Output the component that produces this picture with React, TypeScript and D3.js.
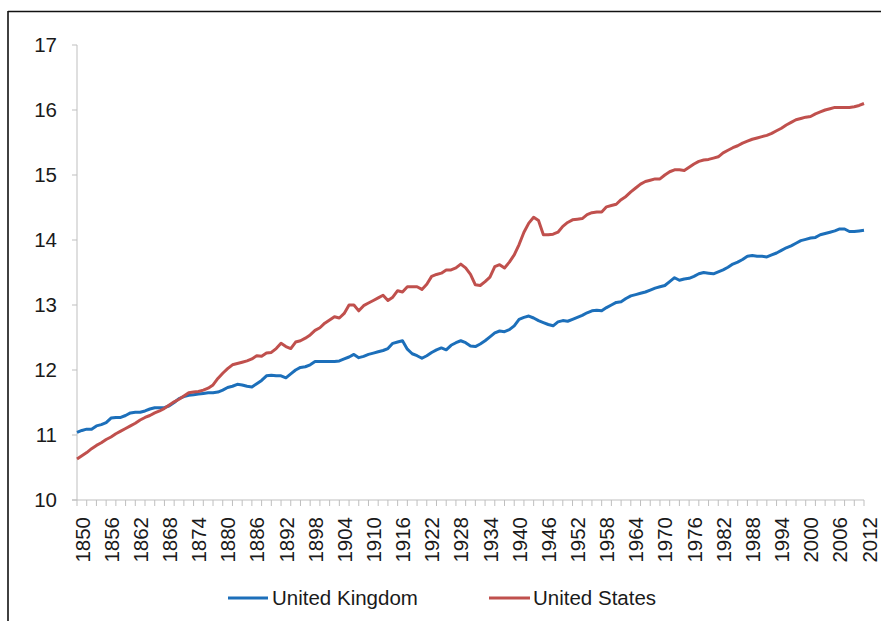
import React from "react";
import * as d3 from "d3";

const startYear = 1850;
const endYear = 2012;

const ukValues: number[] = [
  11.04, 11.07, 11.09, 11.09, 11.14, 11.16, 11.19, 11.26, 11.27, 11.27,
  11.30, 11.34, 11.35, 11.35, 11.37, 11.40, 11.42, 11.42, 11.42, 11.45,
  11.50, 11.56, 11.59, 11.61, 11.62, 11.63, 11.64, 11.65, 11.65, 11.66,
  11.69, 11.73, 11.75, 11.78, 11.77, 11.75, 11.74, 11.79, 11.84, 11.91,
  11.92, 11.91, 11.91, 11.88, 11.94, 12.00, 12.04, 12.05, 12.08, 12.13,
  12.13, 12.13, 12.13, 12.13, 12.14, 12.17, 12.20, 12.24, 12.19, 12.21,
  12.24, 12.26, 12.28, 12.30, 12.33, 12.41, 12.43, 12.45, 12.32, 12.25,
  12.22, 12.18, 12.22, 12.27, 12.31, 12.34, 12.31, 12.38, 12.42, 12.45,
  12.42, 12.37, 12.36, 12.40, 12.45, 12.51, 12.57, 12.60, 12.59, 12.62,
  12.68, 12.78, 12.81, 12.83, 12.80, 12.76, 12.73, 12.70, 12.68, 12.74,
  12.76, 12.75, 12.78, 12.81, 12.84, 12.88, 12.91, 12.92, 12.91, 12.96,
  13.00, 13.04, 13.05, 13.10, 13.14, 13.16, 13.18, 13.20, 13.23, 13.26,
  13.28, 13.30, 13.36, 13.42, 13.38, 13.40, 13.41, 13.44, 13.48, 13.50,
  13.49, 13.48, 13.51, 13.54, 13.58, 13.63, 13.66, 13.70, 13.75, 13.76,
  13.75, 13.75, 13.74, 13.77, 13.80, 13.84, 13.88, 13.91, 13.95, 13.99,
  14.01, 14.03, 14.04, 14.08, 14.10, 14.12, 14.14, 14.17, 14.17, 14.13,
  14.13, 14.14, 14.15,
];

const usValues: number[] = [
  10.63, 10.68, 10.73, 10.79, 10.84, 10.88, 10.93, 10.97, 11.02, 11.06,
  11.10, 11.14, 11.18, 11.23, 11.27, 11.30, 11.34, 11.37, 11.41, 11.46,
  11.51, 11.55, 11.60, 11.65, 11.66, 11.67, 11.69, 11.72, 11.77, 11.87,
  11.95, 12.02, 12.08, 12.10, 12.12, 12.14, 12.17, 12.22, 12.21, 12.26,
  12.27, 12.33, 12.41, 12.36, 12.33, 12.43, 12.45, 12.49, 12.54, 12.61,
  12.65, 12.72, 12.77, 12.82, 12.80, 12.87, 13.00, 13.00, 12.91, 12.99,
  13.03, 13.07, 13.11, 13.15, 13.07, 13.12, 13.22, 13.20, 13.28, 13.28,
  13.28, 13.24, 13.32, 13.44, 13.47, 13.49, 13.54, 13.54, 13.57, 13.63,
  13.57, 13.47, 13.31, 13.30, 13.36, 13.43, 13.59, 13.62, 13.57, 13.66,
  13.77, 13.93, 14.12, 14.26, 14.35, 14.30, 14.08, 14.08, 14.09, 14.12,
  14.21, 14.27, 14.31, 14.32, 14.33, 14.39, 14.42, 14.43, 14.43, 14.51,
  14.53, 14.55, 14.62, 14.67, 14.74, 14.80, 14.86, 14.90, 14.92, 14.94,
  14.94, 15.00, 15.05, 15.08, 15.08, 15.07, 15.12, 15.17, 15.21, 15.23,
  15.24, 15.26, 15.28, 15.34, 15.38, 15.42, 15.45, 15.49, 15.52, 15.55,
  15.57, 15.59, 15.61, 15.64, 15.68, 15.72, 15.77, 15.81, 15.85, 15.87,
  15.89, 15.90, 15.94, 15.97, 16.00, 16.02, 16.04, 16.04, 16.04, 16.04,
  16.05, 16.07, 16.10,
];

const xTickLabels: number[] = [
  1850, 1856, 1862, 1868, 1874, 1880, 1886, 1892, 1898, 1904, 1910, 1916, 1922, 1928,
  1934, 1940, 1946, 1952, 1958, 1964, 1970, 1976, 1982, 1988, 1994, 2000, 2006, 2012,
];

const yTicks: number[] = [10, 11, 12, 13, 14, 15, 16, 17];

const seriesNames = ["United Kingdom", "United States"];
const seriesColors = ["#1C6FBA", "#C0504D"];

export default function App() {
  const W = 881;
  const H = 621;
  const x = d3.scaleLinear().domain([startYear, endYear]).range([77, 864]);
  const y = d3.scaleLinear().domain([10, 17]).range([500, 45]);
  const years = ukValues.map((_, i) => startYear + i);
  const minorTicks = years.filter((yr) => (yr - startYear) % 2 === 0);

  const line = d3
    .line<number>()
    .x((_, i) => x(startYear + i))
    .y((d) => y(d));

  const axisColor = "#BFBFBF";
  const textColor = "#1a1a1a";
  const font = "'Liberation Sans', Arial, sans-serif";

  return (
    <svg
      width={W}
      height={H}
      style={{ position: "absolute", left: 0, top: 0, background: "#fff" }}
      fontFamily={font}
    >
      <rect x={0} y={0} width={W} height={H} fill="#fff" />
      {/* frame */}
      <line x1={8} y1={11.5} x2={W} y2={11.5} stroke="#111" strokeWidth={1.6} />
      <line x1={8} y1={11} x2={8} y2={H} stroke="#111" strokeWidth={1.6} />

      {/* y axis */}
      <line x1={77} y1={y(17)} x2={77} y2={y(10)} stroke={axisColor} strokeWidth={1} />
      {yTicks.map((t) => (
        <g key={t}>
          <line x1={72} x2={77} y1={y(t)} y2={y(t)} stroke={axisColor} strokeWidth={1} />
          <text
            x={57}
            y={y(t)}
            dy="0.36em"
            textAnchor="end"
            fontSize={20.5}
            fill={textColor}
          >
            {t}
          </text>
        </g>
      ))}

      {/* x axis */}
      <line x1={72} x2={864} y1={500} y2={500} stroke={axisColor} strokeWidth={1} />
      {minorTicks.map((yr) => (
        <line key={yr} x1={x(yr)} x2={x(yr)} y1={500} y2={506} stroke={axisColor} strokeWidth={1} />
      ))}
      {xTickLabels.map((yr) => (
        <text
          key={yr}
          transform={`translate(${x(yr)},517) rotate(-90)`}
          dy={12.5}
          textAnchor="end"
          fontSize={20.5}
          fill={textColor}
        >
          {yr}
        </text>
      ))}

      {/* lines */}
      <path d={line(ukValues) || ""} fill="none" stroke={seriesColors[0]} strokeWidth={3} strokeLinejoin="round" />
      <path d={line(usValues) || ""} fill="none" stroke={seriesColors[1]} strokeWidth={3} strokeLinejoin="round" />

      {/* legend */}
      <line x1={228} x2={268} y1={598} y2={598} stroke={seriesColors[0]} strokeWidth={3} />
      <text x={272} y={598} dy="0.36em" fontSize={20.5} fill={textColor}>
        {seriesNames[0]}
      </text>
      <line x1={489} x2={530} y1={598} y2={598} stroke={seriesColors[1]} strokeWidth={3} />
      <text x={533} y={598} dy="0.36em" fontSize={20.5} fill={textColor}>
        {seriesNames[1]}
      </text>
    </svg>
  );
}
